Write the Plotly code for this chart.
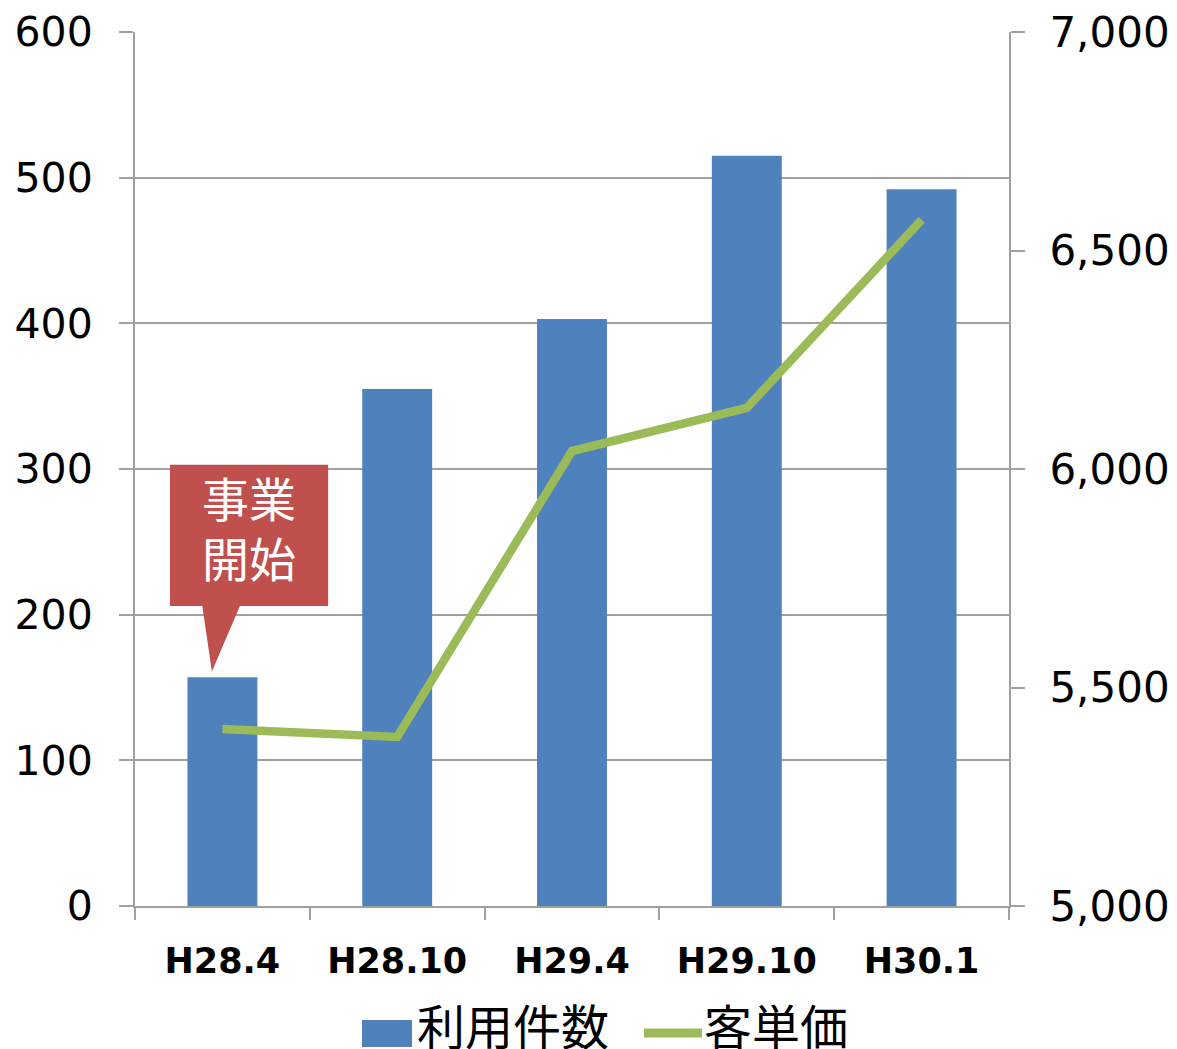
import plotly.graph_objects as go

categories = ["H28.4", "H28.10", "H29.4", "H29.10", "H30.1"]
usage_counts = [157, 355, 403, 515, 492]
unit_price = [5405, 5387, 6041, 6140, 6570]
left_ticks = [0, 100, 200, 300, 400, 500, 600]
right_ticks = [5000, 5500, 6000, 6500, 7000]
series_names = ["利用件数", "客単価"]
callout_lines = ["事業", "開始"]

BAR_COLOR = "#4F81BD"
LINE_COLOR = "#9BBB59"
CALLOUT_COLOR = "#C0504D"
GRID = "#A0A0A0"
CJK = "Noto Sans CJK JP"

# callout geometry (category-index x, left-axis y)
box_x0, box_x1 = -0.30, 0.605
box_y0, box_y1 = 206, 303
ptr_x0, ptr_x1, tip_x, tip_y = -0.115, 0.10, -0.06, 161

W, H = 1177, 1049
ML, MR, MT, MB = 135, 168, 32, 143
PW, PH = W - ML - MR, H - MT - MB

xs = list(range(len(categories)))
fig = go.Figure()
fig.add_trace(go.Bar(
    x=xs, y=usage_counts, name=series_names[0],
    marker=dict(color=BAR_COLOR, line=dict(width=0)), width=0.4, yaxis="y",
    showlegend=False,
))
fig.add_trace(go.Scatter(
    x=xs, y=unit_price, name=series_names[1], mode="lines",
    line=dict(color=LINE_COLOR, width=8.5), yaxis="y2", showlegend=False,
))

path = (f"M {box_x0} {box_y0} L {box_x0} {box_y1} L {box_x1} {box_y1} L {box_x1} {box_y0} "
        f"L {ptr_x1} {box_y0} L {tip_x} {tip_y} L {ptr_x0} {box_y0} Z")
fig.add_shape(type="path", path=path, xref="x", yref="y",
              fillcolor=CALLOUT_COLOR, line=dict(width=0), layer="above")
cx = (box_x0 + box_x1) / 2
fig.add_annotation(x=cx, y=281, xref="x", yref="y", text=callout_lines[0], showarrow=False,
                   font=dict(family=CJK, size=47, color="white"))
fig.add_annotation(x=cx, y=240, xref="x", yref="y", text=callout_lines[1], showarrow=False,
                   font=dict(family=CJK, size=47, color="white"))

# custom legend (convert pixel positions into paper coordinates)
def px(x):
    return (x - ML) / PW
def py(y):
    return (H - MB - y) / PH
fig.add_shape(type="rect", xref="paper", yref="paper",
              x0=px(362), x1=px(412), y0=py(1047), y1=py(1020),
              fillcolor=BAR_COLOR, line=dict(width=0))
fig.add_shape(type="line", xref="paper", yref="paper",
              x0=px(644), x1=px(702), y0=py(1033), y1=py(1033),
              line=dict(color=LINE_COLOR, width=9))
fig.add_annotation(x=px(415), y=py(1024), xref="paper", yref="paper", xanchor="left",
                   yanchor="middle", text=series_names[0], showarrow=False,
                   font=dict(family=CJK, size=48, color="black"))
fig.add_annotation(x=px(702), y=py(1024), xref="paper", yref="paper", xanchor="left",
                   yanchor="middle", text=series_names[1], showarrow=False,
                   font=dict(family=CJK, size=48, color="black"))

fig.update_layout(
    width=W, height=H,
    margin=dict(l=ML, r=MR, t=MT, b=MB, autoexpand=False),
    plot_bgcolor="white", paper_bgcolor="white",
    font=dict(family="DejaVu Sans", color="black"),
    showlegend=False,
    xaxis=dict(
        range=[-0.5, 4.5], tickmode="array", tickvals=xs,
        ticktext=[f"<b>{c}</b>" for c in categories],
        ticks="", showline=True, linecolor=GRID, linewidth=2, showgrid=False,
        tickfont=dict(size=35, family="DejaVu Sans"), ticklabelstandoff=23,
        zeroline=False, automargin=False,
        minor=dict(tickvals=[i - 0.5 for i in range(len(categories) + 1)],
                   ticks="outside", ticklen=12, tickcolor=GRID, tickwidth=2, showgrid=False),
    ),
    yaxis=dict(
        range=[0, 600], tickvals=left_ticks, ticks="outside", ticklen=14,
        tickcolor=GRID, tickwidth=2, showline=True, linecolor=GRID, linewidth=2,
        showgrid=True, gridcolor=GRID, gridwidth=2, zeroline=False,
        tickfont=dict(size=41, family="DejaVu Sans"), ticklabelstandoff=18,
        automargin=False,
    ),
    yaxis2=dict(
        range=[5000, 7000], tickvals=right_ticks, tickformat=",", overlaying="y",
        side="right", ticks="outside", ticklen=14, tickcolor=GRID, tickwidth=2,
        showline=True, linecolor=GRID, linewidth=2, showgrid=False, zeroline=False,
        tickfont=dict(size=42, family="DejaVu Sans"), ticklabelstandoff=16,
        automargin=False,
    ),
)

fig.write_html("out.html")
